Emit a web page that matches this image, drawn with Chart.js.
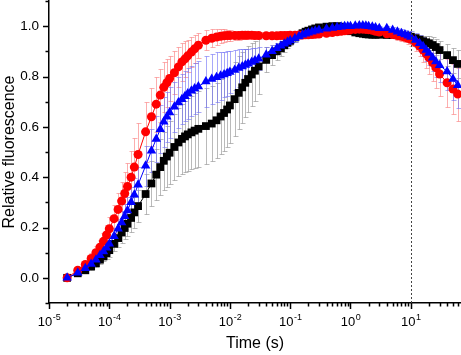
<!DOCTYPE html>
<html>
<head>
<meta charset="utf-8">
<script src="https://cdn.jsdelivr.net/npm/chart.js@4.4.1/dist/chart.umd.min.js"></script>
<style>
html, body { margin:0; padding:0; background:#fff; }
</style>
</head>
<body>
<canvas id="c" width="461" height="355"></canvas>
<script>
// waktu (s), per segmen rekaman
const waktu = [
	2e-5, 3e-5, 4e-5, 5e-5, 6e-5, 7e-5, 8e-5, 9e-5, 1e-4, 1.2e-4, 1.4e-4, 1.6e-4, 1.8e-4, 2e-4, 2.3e-4, 2.6e-4, 3e-4,
	4e-4, 5e-4, 6e-4, 7e-4, 8e-4, 9e-4, 1e-3, 1.2e-3, 1.4e-3, 1.6e-3, 1.8e-3, 2e-3, 2.3e-3, 2.6e-3, 3e-3,
	4e-3, 5e-3, 6e-3, 7e-3, 8e-3, 9e-3, 1e-2, 1.2e-2, 1.4e-2, 1.6e-2, 1.8e-2, 2e-2, 2.3e-2, 2.6e-2, 3e-2,
	0.04, 0.05, 0.06, 0.07, 0.08, 0.09, 0.1, 0.12, 0.14, 0.16, 0.18, 0.2, 0.23, 0.26, 0.3,
	0.4, 0.5, 0.6, 0.7, 0.8, 0.9, 1, 1.2, 1.4, 1.6, 1.8, 2, 2.3, 2.6, 3,
	4, 5, 6, 7, 8, 9, 10, 12, 14, 16, 18, 20, 23, 26, 30,
	40, 50, 60,
]

const hitam = [
	0.000, 0.018, 0.030, 0.045, 0.058, 0.072, 0.085, 0.098, 0.110, 0.135, 0.158, 0.180, 0.198, 0.215, 0.238, 0.260, 0.285,
	0.333, 0.375, 0.410, 0.440, 0.465, 0.482, 0.497, 0.520, 0.538, 0.552, 0.562, 0.570, 0.578, 0.585, 0.592,
	0.603, 0.613, 0.626, 0.641, 0.655, 0.669, 0.685, 0.710, 0.735, 0.757, 0.775, 0.790, 0.808, 0.823, 0.840,
	0.866, 0.885, 0.900, 0.912, 0.924, 0.934, 0.942, 0.955, 0.965, 0.972, 0.978, 0.982, 0.987, 0.991, 0.995,
	0.998, 1.000, 1.000, 0.998, 0.990, 0.985, 0.980, 0.975, 0.972, 0.970, 0.968, 0.967, 0.966, 0.966, 0.966,
	0.965, 0.965, 0.964, 0.963, 0.962, 0.960, 0.958, 0.952, 0.946, 0.940, 0.936, 0.932, 0.925, 0.917, 0.905,
	0.885, 0.865, 0.850,
]
const hitamErr = [
	0.005, 0.008, 0.010, 0.012, 0.015, 0.018, 0.020, 0.023, 0.026, 0.030, 0.035, 0.040, 0.045, 0.050, 0.055, 0.060, 0.065,
	0.080, 0.090, 0.100, 0.110, 0.115, 0.120, 0.125, 0.130, 0.135, 0.140, 0.140, 0.145, 0.145, 0.150, 0.150,
	0.150, 0.150, 0.150, 0.150, 0.150, 0.150, 0.150, 0.148, 0.145, 0.140, 0.135, 0.130, 0.125, 0.120, 0.110,
	0.050, 0.040, 0.035, 0.030, 0.025, 0.020, 0.018, 0.016, 0.014, 0.012, 0.010, 0.010, 0.010, 0.010, 0.010,
	0.010, 0.010, 0.010, 0.010, 0.010, 0.010, 0.010, 0.010, 0.010, 0.010, 0.010, 0.010, 0.010, 0.010, 0.010,
	0.010, 0.010, 0.010, 0.012, 0.012, 0.014, 0.015, 0.018, 0.020, 0.022, 0.025, 0.028, 0.030, 0.033, 0.036,
	0.045, 0.050, 0.055,
]

const merah = [
	0.000, 0.030, 0.053, 0.077, 0.100, 0.122, 0.145, 0.170, 0.195, 0.235, 0.272, 0.305, 0.335, 0.363, 0.400, 0.440, 0.490,
	0.580, 0.640, 0.690, 0.726, 0.757, 0.775, 0.792, 0.815, 0.838, 0.858, 0.870, 0.882, 0.897, 0.910, 0.924,
	0.944, 0.952, 0.957, 0.960, 0.962, 0.963, 0.963, 0.963, 0.963, 0.964, 0.964, 0.964, 0.964, 0.963, 0.963,
	0.962, 0.962, 0.962, 0.963, 0.963, 0.963, 0.964, 0.964, 0.965, 0.965, 0.966, 0.966, 0.967, 0.968, 0.969,
	0.972, 0.975, 0.978, 0.980, 0.982, 0.984, 0.985, 0.987, 0.988, 0.988, 0.987, 0.986, 0.984, 0.980, 0.977,
	0.970, 0.967, 0.963, 0.960, 0.956, 0.952, 0.948, 0.935, 0.920, 0.905, 0.890, 0.875, 0.855, 0.835, 0.810,
	0.775, 0.750, 0.730,
]
const merahErr = [
	0.005, 0.010, 0.015, 0.020, 0.025, 0.030, 0.035, 0.040, 0.045, 0.055, 0.065, 0.075, 0.085, 0.095, 0.105, 0.115, 0.125,
	0.120, 0.115, 0.110, 0.105, 0.100, 0.095, 0.090, 0.085, 0.080, 0.075, 0.070, 0.065, 0.060, 0.055, 0.050,
	0.040, 0.035, 0.030, 0.028, 0.025, 0.022, 0.020, 0.018, 0.016, 0.015, 0.014, 0.013, 0.012, 0.012, 0.012,
	0.012, 0.012, 0.012, 0.011, 0.011, 0.011, 0.011, 0.010, 0.010, 0.010, 0.010, 0.010, 0.010, 0.010, 0.010,
	0.010, 0.010, 0.010, 0.010, 0.010, 0.010, 0.010, 0.010, 0.010, 0.010, 0.010, 0.010, 0.010, 0.010, 0.010,
	0.012, 0.014, 0.016, 0.018, 0.020, 0.023, 0.026, 0.032, 0.040, 0.048, 0.056, 0.064, 0.072, 0.080, 0.088,
	0.095, 0.100, 0.105,
]

const biru = [
	0.000, 0.020, 0.038, 0.055, 0.072, 0.090, 0.105, 0.120, 0.135, 0.165, 0.195, 0.220, 0.245, 0.268, 0.300, 0.330, 0.370,
	0.445, 0.505, 0.552, 0.590, 0.620, 0.640, 0.657, 0.680, 0.697, 0.710, 0.722, 0.732, 0.743, 0.752, 0.760,
	0.780, 0.790, 0.797, 0.803, 0.808, 0.813, 0.818, 0.826, 0.834, 0.840, 0.846, 0.851, 0.858, 0.864, 0.871,
	0.886, 0.900, 0.912, 0.922, 0.930, 0.937, 0.943, 0.952, 0.960, 0.966, 0.970, 0.974, 0.978, 0.982, 0.985,
	0.990, 0.993, 0.996, 0.998, 1.000, 1.000, 1.000, 1.002, 1.003, 1.003, 1.002, 1.000, 0.998, 0.995, 0.992,
	0.992, 0.985, 0.978, 0.972, 0.967, 0.962, 0.957, 0.945, 0.932, 0.920, 0.905, 0.893, 0.875, 0.860, 0.845,
	0.820, 0.790, 0.765,
]
const biruErr = [
	0.005, 0.008, 0.010, 0.013, 0.016, 0.020, 0.023, 0.026, 0.030, 0.035, 0.040, 0.045, 0.050, 0.055, 0.060, 0.065, 0.070,
	0.080, 0.085, 0.090, 0.095, 0.100, 0.100, 0.100, 0.100, 0.100, 0.100, 0.100, 0.100, 0.100, 0.100, 0.100,
	0.100, 0.100, 0.100, 0.095, 0.090, 0.090, 0.085, 0.080, 0.075, 0.070, 0.065, 0.060, 0.055, 0.050, 0.045,
	0.030, 0.025, 0.020, 0.018, 0.016, 0.015, 0.014, 0.013, 0.012, 0.012, 0.011, 0.011, 0.010, 0.010, 0.010,
	0.010, 0.010, 0.010, 0.010, 0.010, 0.010, 0.010, 0.010, 0.010, 0.010, 0.010, 0.010, 0.010, 0.010, 0.010,
	0.010, 0.012, 0.014, 0.016, 0.018, 0.020, 0.022, 0.027, 0.032, 0.037, 0.042, 0.047, 0.054, 0.060, 0.066,
	0.075, 0.085, 0.090,
]

const xTick = [1e-5, 1e-4, 1e-3, 1e-2, 1e-1, 1, 10]
const xPangkat = ['-5', '-4', '-3', '-2', '-1', '0', '1']
const yTick = [0, 0.2, 0.4, 0.6, 0.8, 1.0]
const yLabel = ['0.0', '0.2', '0.4', '0.6', '0.8', '1.0']
const batas = 10

const huruf = '"Liberation Sans", Arial, sans-serif'
const titik = v => waktu.map((t, i) => ({x: t, y: v[i]}))

const tanda = {
	id: 'tanda',
	beforeDatasetsDraw(c) {
		const {ctx, chartArea: ca, scales: {x, y}} = c
		ctx.save()
		ctx.beginPath()
		ctx.rect(ca.left, ca.top, ca.right - ca.left, ca.bottom - ca.top)
		ctx.clip()
		ctx.lineWidth = 1
		c.data.datasets.slice().reverse().forEach(d => {
			ctx.strokeStyle = d.errColor
			d.data.forEach((p, i) => {
				const px = Math.round(x.getPixelForValue(p.x)) + 0.5
				const y1 = Math.round(y.getPixelForValue(p.y + d.err[i])) + 0.5
				const y2 = Math.round(y.getPixelForValue(p.y - d.err[i])) + 0.5
				ctx.beginPath()
				ctx.moveTo(px, y1); ctx.lineTo(px, y2)
				ctx.moveTo(px - 2, y1); ctx.lineTo(px + 3, y1)
				ctx.moveTo(px - 2, y2); ctx.lineTo(px + 3, y2)
				ctx.stroke()
			})
		})
		ctx.restore()
	},
	afterDatasetsDraw(c) {
		const {ctx, chartArea: ca, scales: {x}} = c
		const px = Math.round(x.getPixelForValue(batas)) + 0.5
		ctx.save()
		ctx.strokeStyle = '#444'
		ctx.lineWidth = 1
		ctx.setLineDash([2, 2])
		ctx.beginPath()
		ctx.moveTo(px, ca.top); ctx.lineTo(px, ca.bottom)
		ctx.stroke()
		ctx.restore()
	},
	afterDraw(c) {
		const {ctx, chartArea: ca, scales: {x, y}} = c
		ctx.save()
		ctx.strokeStyle = '#000'
		ctx.lineWidth = 1.5
		ctx.beginPath()
		x.ticks.forEach(t => {
			const px = Math.round(x.getPixelForValue(t.value)) + 0.5
			ctx.moveTo(px, ca.bottom); ctx.lineTo(px, ca.bottom + (t.major ? 6 : 3.5))
		})
		y.ticks.forEach(t => {
			const py = Math.round(y.getPixelForValue(t.value)) + 0.5
			ctx.moveTo(ca.left, py); ctx.lineTo(ca.left - (t.major ? 6 : 3.5), py)
		})
		ctx.stroke()

		// label sumbu x: 10 dengan pangkat
		ctx.fillStyle = '#000'
		ctx.textBaseline = 'alphabetic'
		ctx.textAlign = 'left'
		xTick.forEach((v, i) => {
			const px = x.getPixelForValue(v)
			ctx.font = '13px "Liberation Sans Narrow", ' + huruf
			const w1 = ctx.measureText('10').width
			ctx.font = '9px "Liberation Sans Narrow", ' + huruf
			const w2 = ctx.measureText(xPangkat[i]).width
			const x0 = px - (w1 + w2) / 2
			ctx.font = '13px "Liberation Sans Narrow", ' + huruf
			ctx.fillText('10', x0, ca.bottom + 23)
			ctx.font = '9px "Liberation Sans Narrow", ' + huruf
			ctx.fillText(xPangkat[i], x0 + w1 + 0.5, ca.bottom + 16.5)
		})
		ctx.restore()
	},
}

Chart.defaults.font.family = huruf
Chart.defaults.font.size = 13
Chart.defaults.color = '#000'

new Chart(document.getElementById('c'), {
	type: 'scatter',
	data: {
		datasets: [
			{ data: titik(biru), err: biruErr, errColor: 'rgba(110,110,245,0.6)', showLine: true, borderColor: '#0000ff', backgroundColor: '#0000ff', borderWidth: 1, pointStyle: 'triangle', pointRadius: 5.5, pointBorderWidth: 0 },
			{ data: titik(merah), err: merahErr, errColor: 'rgba(250,130,130,0.65)', showLine: true, borderColor: '#ff0000', backgroundColor: '#ff0000', borderWidth: 1, pointStyle: 'circle', pointRadius: 4.5, pointBorderWidth: 0 },
			{ data: titik(hitam), err: hitamErr, errColor: 'rgba(140,140,140,0.6)', showLine: true, borderColor: '#000', backgroundColor: '#000', borderWidth: 1, pointStyle: 'rect', pointRadius: 5.5, pointBorderWidth: 0 },
		]
	},
	options: {
		responsive: false,
		animation: false,
		devicePixelRatio: 1,
		layout: { autoPadding: false, padding: { top: 1, right: 0, left: 0, bottom: 0 } },
		plugins: { legend: { display: false }, tooltip: { enabled: false } },
		scales: {
			x: {
				type: 'logarithmic',
				min: 1e-5,
				max: 68,
				afterBuildTicks: s => {
					const t = []
					for (let e = -5; e <= 1; e++) for (let m = 1; m <= 9; m++) {
						const v = m * Math.pow(10, e)
						if (v <= s.max) t.push({ value: v, major: m == 1 })
					}
					s.ticks = t
				},
				afterFit: s => { s.height = 52; s.paddingLeft = 0; s.paddingRight = 0 },
				grid: { display: false, drawTicks: false },
				border: { display: true, color: '#000', width: 1.5 },
				ticks: { display: false, autoSkip: false },
				title: { display: true, text: 'Time (s)', font: { size: 16 }, padding: { top: 0, bottom: 2 } },
			},
			y: {
				min: -0.1,
				max: 1.1,
				afterBuildTicks: s => {
					const t = []
					for (let i = -1; i <= 11; i++) t.push({ value: i / 10, major: yTick.some(a => Math.abs(a - i / 10) < 1e-6) })
					s.ticks = t
				},
				afterFit: s => { s.width = 49; s.paddingTop = 0; s.paddingBottom = 0 },
				grid: { display: false, drawTicks: true, tickLength: 6 },
				border: { display: true, color: '#000', width: 1.5 },
				ticks: {
					autoSkip: false, padding: 4,
					font: { size: 13.5 },
					callback: v => {
						const k = yTick.findIndex(a => Math.abs(a - v) < 1e-6)
						return k < 0 ? '' : yLabel[k]
					}
				},
				title: { display: true, text: 'Relative fluorescence', font: { size: 16 }, padding: { top: 0, bottom: 0 } },
			},
		},
	},
	plugins: [tanda],
})
</script>
</body>
</html>
